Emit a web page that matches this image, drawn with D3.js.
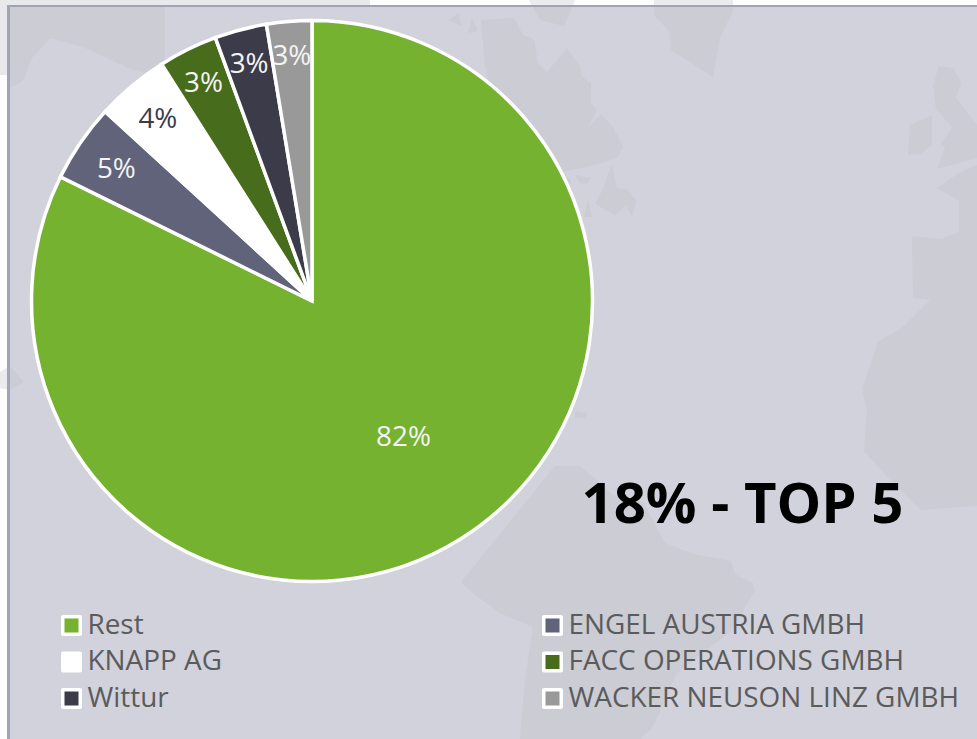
<!DOCTYPE html>
<html><head><meta charset="utf-8">
<style>html,body{margin:0;padding:0;background:#fff;overflow:hidden}svg{display:block;font-family:"Open Sans",sans-serif}</style>
<script src="https://cdn.jsdelivr.net/npm/d3@7/dist/d3.min.js"></script>
</head><body><svg id="c" width="977" height="739"></svg>
<script>
// Data
const categories = ["Rest","ENGEL AUSTRIA GMBH","KNAPP AG","FACC OPERATIONS GMBH","Wittur","WACKER NEUSON LINZ GMBH"];
const shares = [82.3,4.5,4.2,3.4,3.0,2.6];
const valueLabels = ["82%","5%","4%","3%","3%","3%"];
const sliceColors = ["#74b230","#60637a","#ffffff","#466c1c","#3b3b4a","#999999"];
const labelColors = ["#f4f4f4","#f4f4f4","#3b3b4a","#f4f4f4","#f4f4f4","#f4f4f4"];
const headline = "18% - TOP 5";

// Decorative background map outlines
const mapShapes = [
 [[9,6],[165,6],[165,78],[133,70],[83,47],[50,38],[32,58],[22,82],[9,88]],
 [[481,20],[514,18],[523,35],[534,39],[538,63],[547,72],[567,48],[580,66],[582,77],[591,83],[591,103],[597,110],[588,127],[601,114],[613,127],[623,147],[617,158],[599,164],[558,173],[510,166],[485,66]],
 [[612,164],[617,188],[628,190],[636,201],[632,217],[626,206],[615,215],[595,204],[602,191]],
 [[575,175],[590,178],[587,184],[580,183]],
 [[588,200],[592,217],[584,217]],
 [[558,173],[571,180],[566,199],[584,221],[575,225]],
 [[654,0],[733,0],[733,11],[720,37],[713,77],[671,50],[669,31],[654,15]],
 [[529,0],[575,0],[564,26],[540,20]],
 [[448,20],[459,13],[461,26]],
 [[472,18],[478,31],[468,33]],
 [[908,155],[910,125],[932,115],[932,145],[921,154]],
 [[939,66],[954,68],[961,83],[956,98],[977,125],[977,158],[937,169],[945,147],[941,144],[952,127],[936,109],[933,86]],
 [[977,165],[959,173],[937,188],[959,201],[959,232],[941,239],[912,236],[913,298],[930,300],[904,326],[878,342],[862,388],[867,410],[864,451],[890,480],[921,510],[945,508],[977,506]],
 [[575,411],[587,413],[585,418],[575,418]],
 [[555,466],[580,466],[601,484],[613,495],[643,502],[665,543],[694,554],[731,561],[735,574],[753,583],[755,591],[731,631],[677,673],[653,727],[640,739],[520,739],[525,680],[533,627],[500,613],[474,594],[461,582]],
 [[0,372],[10,366],[24,382],[10,390],[0,388]]
];

const W=977,H=739,cx=312,cy=301,R=280.5;
const svg=d3.select("#c");
const defs=svg.append("defs");
defs.append("clipPath").attr("id","panel").append("rect").attr("x",9).attr("y",6).attr("width",W).attr("height",H);
svg.append("rect").attr("width",W).attr("height",H).attr("fill","#fdfdfe");
svg.append("rect").attr("width",8).attr("height",75).attr("fill","#e9e9ed");
svg.append("rect").attr("width",370).attr("height",5).attr("fill","#e9e9ed");
const line=d3.line().curve(d3.curveLinearClosed);
svg.append("g").selectAll("path").data(mapShapes).join("path").attr("d",line).attr("fill","#ebebef");
svg.append("rect").attr("x",7).attr("y",5).attr("width",W).attr("height",H).attr("fill","#d1d2db");
svg.append("g").attr("clip-path","url(#panel)").selectAll("path").data(mapShapes).join("path").attr("d",line).attr("fill","#cbccd4");
svg.append("rect").attr("x",7).attr("y",5).attr("width",W).attr("height",2).attr("fill","#a0a4b4");
svg.append("rect").attr("x",7).attr("y",5).attr("width",3).attr("height",H).attr("fill","#a0a4b4");

// Pie
const pie=d3.pie().sort(null).value(d=>d)(shares);
const arc=d3.arc().innerRadius(0).outerRadius(R);
const g=svg.append("g").attr("transform",`translate(${cx},${cy})`);
g.selectAll("path").data(pie).join("path").attr("d",arc)
 .attr("fill",(d,i)=>sliceColors[i]).attr("stroke","#fff").attr("stroke-width",3.5).attr("stroke-linejoin","miter");

// Slice labels: big slice sits mid-radius, thin slices near the rim
const labelRadius=[163,237,240,245,247,247];
const labelAngleShift=[-0.04,0,0,0,0,0];
g.selectAll("text").data(pie).join("text")
 .attr("x",(d,i)=>labelRadius[i]*Math.sin((d.startAngle+d.endAngle)/2+labelAngleShift[i]))
 .attr("y",(d,i)=>-labelRadius[i]*Math.cos((d.startAngle+d.endAngle)/2+labelAngleShift[i]))
 .attr("text-anchor","middle").attr("dy","0.38em")
 .attr("font-size",27.8).attr("fill",(d,i)=>labelColors[i])
 .text((d,i)=>valueLabels[i]);

// Headline
svg.append("text").attr("x",742.5).attr("y",523).attr("text-anchor","middle")
 .attr("font-size",56.3).attr("font-weight",700).attr("fill","#000").text(headline);

// Legend
const colX=d3.scaleOrdinal().domain([0,1]).range([61,542]);
const rowY=d3.scalePoint().domain([0,1,2]).range([615,688]);
const leg=svg.append("g").selectAll("g").data(categories).join("g")
 .attr("transform",(d,i)=>`translate(${colX(i%2)},${rowY(Math.floor(i/2))})`);
leg.append("rect").attr("width",21).attr("height",21).attr("rx",2).attr("fill","#fff");
leg.append("rect").attr("x",3.5).attr("y",3.5).attr("width",14).attr("height",14).attr("fill",(d,i)=>sliceColors[i]);
leg.append("text").attr("x",26.5).attr("y",8.5).attr("dy","0.36em")
 .attr("font-size",27.9).attr("fill","#5b5b5b").text(d=>d);
</script></body></html>
